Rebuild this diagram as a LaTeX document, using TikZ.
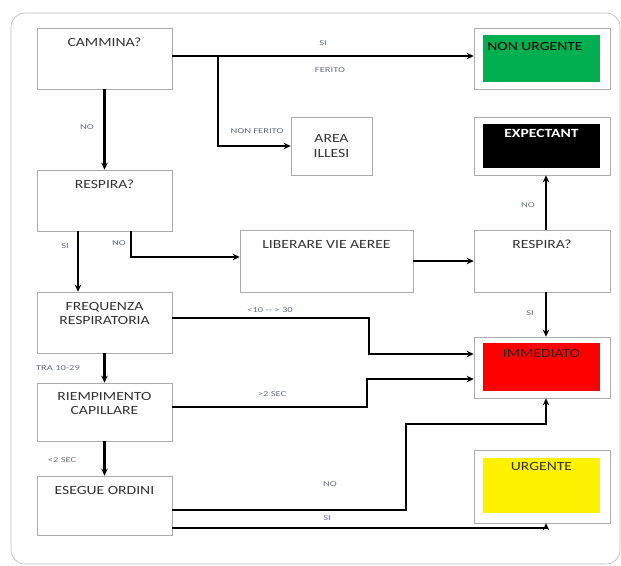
\documentclass[tikz,border=0pt]{standalone}
\usepackage{fontspec}
\setmainfont{Carlito}
\newfontfamily\boxfont[FakeStretch=1.25]{Carlito}
\newfontfamily\lblfont[FakeStretch=1.4]{Carlito}
\usetikzlibrary{arrows.meta}
\definecolor{okgreen}{RGB}{0,176,80}
\definecolor{lblgray}{RGB}{100,108,125}
\tikzset{
  box/.style={draw=gray!65, line width=0.6pt, minimum width=135pt, minimum height=61pt, inner sep=0pt},
  boxtext/.style={font=\boxfont\fontsize{12.5}{14.5}\selectfont, text=black!80, align=center},
  fillbox/.style={minimum width=117pt, inner sep=0pt},
  lbl/.style={font=\lblfont\fontsize{7.5}{8}\selectfont, text=lblgray},
  arr/.style={line width=2.2pt, -{Stealth[length=7pt,width=6.5pt]}},
}
\begin{document}
\begin{tikzpicture}[x=1pt,y=-1pt]
    \useasboundingbox (0,0) rectangle (621,565);
    \draw[gray!55, line width=0.6pt, rounded corners=14pt] (11,13) rectangle (620,564);

    % Question boxes on the left
    \node[box, label={[boxtext,anchor=north,yshift=-7pt]north:CAMMINA?}] (cammina) at (104.5,58.5) {};
    \node[box, label={[boxtext,anchor=north,yshift=-7pt]north:RESPIRA?}] (respira) at (104.5,200.5) {};
    \node[box, label={[boxtext,anchor=north,yshift=-7pt]north:{FREQUENZA\\RESPIRATORIA}}] (freq) at (104.5,322.5) {};
    \node[box, minimum height=58pt, label={[boxtext,anchor=north,yshift=-6pt]north:{RIEMPIMENTO\\CAPILLARE}}] (riemp) at (104.5,412) {};
    \node[box, minimum height=59pt, label={[boxtext,anchor=north,yshift=-7pt]north:ESEGUE ORDINI}] (esegue) at (104.5,505.5) {};

    % Middle boxes
    \node[box, minimum width=81pt, minimum height=58pt, boxtext] (illesi) at (331.5,146) {AREA\\ILLESI};
    \node[box, minimum width=173pt, minimum height=62pt, label={[boxtext,anchor=north,yshift=-7pt]north:LIBERARE VIE AEREE}] (liberare) at (326.5,261) {};
    \node[box, minimum width=136pt, minimum height=62pt, label={[boxtext,anchor=north,yshift=-7pt]north:RESPIRA?}] (respirab) at (542,261) {};

    % Outcome boxes on the right
    \node[box, minimum width=136pt] (nonurg) at (542,58.5) {};
    \node[fillbox, fill=okgreen, minimum height=47pt,
          label={[boxtext,text=black,anchor=north west,xshift=1pt,yshift=-4pt]north west:NON URGENTE}] (nonurgfill) at (541.5,58.5) {};
    \node[box, minimum width=136pt, minimum height=58pt] (expect) at (542,146) {};
    \node[fillbox, fill=black, minimum height=44pt,
          label={[boxtext,text=white,font=\boxfont\fontsize{12.5}{14.5}\selectfont\bfseries,anchor=north,yshift=-2pt]north:EXPECTANT}] (expectfill) at (541.5,146) {};
    \node[box, minimum width=136pt] (immed) at (542,367.5) {};
    \node[fillbox, fill=red, minimum height=48pt,
          label={[boxtext,text=black!85,anchor=north,yshift=-3pt]north:IMMEDIATO}] (immedfill) at (541.5,367) {};
    \node[box, minimum width=136pt, minimum height=73pt] (urgente) at (542,486.5) {};
    \node[fillbox, fill=yellow, minimum height=55pt,
          label={[boxtext,anchor=north,yshift=-1pt]north:URGENTE}] (urgentefill) at (541.5,485.5) {};

    % Connectors
    \draw[arr] ([yshift=2.5pt]cammina.east) -- ([yshift=2.5pt]nonurg.west);
    \draw[arr] ([yshift=2.5pt]cammina.east) ++(46,0) |- (illesi.west);
    \draw[arr] (cammina.south) -- (respira.north);
    \draw[arr] ([xshift=-26.5pt]respira.south) -- ([xshift=-26.5pt]freq.north);
    \draw[arr] ([xshift=26.5pt]respira.south) |- ([yshift=4pt]liberare.west);
    \draw[arr] (liberare.east) -- (respirab.west);
    \draw[arr] ([xshift=4pt]respirab.north) -- ([xshift=4pt]expect.south);
    \draw[arr] ([xshift=4pt]respirab.south) -- ([xshift=4pt]immed.north);
    \draw[arr] (freq.south) -- (riemp.north);
    \draw[arr] (riemp.south) -- (esegue.north);
    \draw[arr] ([yshift=4.5pt]freq.east) -- ++(197,0) |- ([yshift=13.5pt]immed.west);
    \draw[arr] ([yshift=5pt]riemp.east) -- ++(195,0) |- ([yshift=-11.5pt]immed.west);
    \draw[arr] ([yshift=-4.5pt]esegue.east) -- ++(234,0) -- ++(0,-86) -| ([xshift=4pt]immed.south);
    \draw[arr] ([yshift=-22.5pt]esegue.east) -| ([xshift=4pt]urgente.south);

    % Branch labels
    \node[lbl] (l1) at (323,43) {SI};
    \node[lbl] (l2) at (330,70) {FERITO};
    \node[lbl] (l3) at (257,131) {NON FERITO};
    \node[lbl] (l4) at (87,127) {NO};
    \node[lbl] (l5) at (65,246) {SI};
    \node[lbl] (l6) at (119,243) {NO};
    \node[lbl] (l7) at (528,205) {NO};
    \node[lbl] (l8) at (530,313) {SI};
    \node[lbl] (l9) at (270,310) {<10 -- > 30};
    \node[lbl] (l10) at (58,368) {TRA 10-29};
    \node[lbl] (l11) at (272,394) {>2 SEC};
    \node[lbl] (l12) at (62,460) {<2 SEC};
    \node[lbl] (l13) at (330,484) {NO};
    \node[lbl] (l14) at (327,518) {SI};
\end{tikzpicture}
\end{document}
